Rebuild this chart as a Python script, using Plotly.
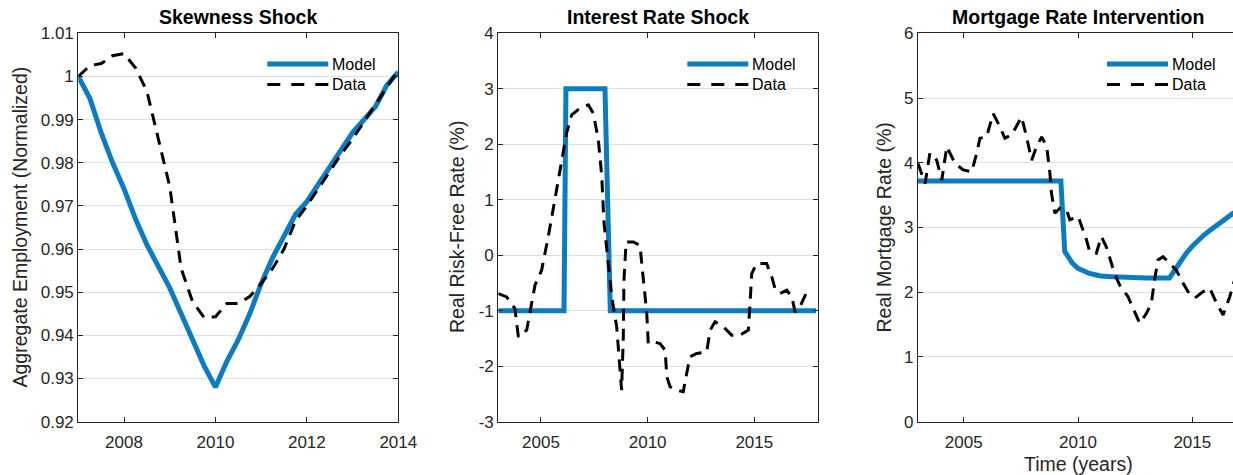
import plotly.graph_objects as go

# ---- data ----
# panel 1: skewness shock (quarterly)
SKEW_YEARS = [2007.0, 2007.25, 2007.5, 2007.75, 2008.0, 2008.25, 2008.5, 2008.75,
              2009.0, 2009.25, 2009.5, 2009.75, 2010.0, 2010.25, 2010.5, 2010.75,
              2011.0, 2011.25, 2011.5, 2011.75, 2012.0, 2012.25, 2012.5, 2012.75,
              2013.0, 2013.25, 2013.5, 2013.75, 2014.0]
SKEW_MODEL = [1.000, 0.995, 0.987, 0.980, 0.974, 0.967, 0.961, 0.956,
              0.951, 0.945, 0.939, 0.933, 0.928, 0.934, 0.939, 0.945,
              0.952, 0.958, 0.963, 0.968, 0.971, 0.975, 0.979, 0.983,
              0.987, 0.990, 0.993, 0.998, 1.001]
SKEW_DATA = [1.000, 1.0025, 1.003, 1.0048, 1.0053, 1.002, 0.9966, 0.9855,
             0.9745, 0.9555, 0.9478, 0.9442, 0.9443, 0.9474, 0.9474, 0.949,
             0.952, 0.9555, 0.960, 0.9665, 0.970, 0.974, 0.978, 0.982,
             0.9855, 0.9895, 0.9935, 0.9975, 1.0015]

# panel 2: interest rate shock
RATE_MODEL_YEARS = [2003.0, 2006.08, 2006.17, 2008.0, 2008.25, 2017.9]
RATE_MODEL = [-1, -1, 3, 3, -1, -1]
RATE_DATA_YEARS = [2003.0, 2003.39, 2003.78, 2003.94, 2004.33, 2004.72, 2005.03, 2005.34,
                   2005.65, 2005.97, 2006.2, 2006.44, 2006.83, 2007.22, 2007.45, 2007.69,
                   2007.85, 2007.95, 2008.05, 2008.32, 2008.55, 2008.7, 2008.78, 2008.86,
                   2008.89, 2008.99, 2009.33, 2009.64, 2009.8, 2009.96, 2010.03, 2010.27,
                   2010.58, 2010.82, 2010.9, 2011.05, 2011.36, 2011.67, 2011.83, 2011.99,
                   2012.3, 2012.77, 2012.93, 2013.16, 2013.55, 2013.94, 2014.33, 2014.72,
                   2014.8, 2014.88, 2015.11, 2015.58, 2015.82, 2015.97, 2016.2, 2016.52,
                   2016.76, 2016.91, 2017.14, 2017.46]
RATE_DATA = [-0.69, -0.75, -0.96, -1.47, -1.35, -0.54, -0.27, 0.33,
             1.0, 1.66, 2.2, 2.53, 2.65, 2.71, 2.56, 2.08,
             1.42, 0.6, 0.2, -0.75, -1.29, -1.95, -2.43, -1.47,
             -0.45, 0.24, 0.24, 0.18, -0.45, -1.05, -1.59, -1.56,
             -1.59, -1.71, -2.19, -2.37, -2.43, -2.46, -2.13, -1.83,
             -1.77, -1.74, -1.35, -1.2, -1.29, -1.44, -1.44, -1.35,
             -0.87, -0.33, -0.15, -0.15, -0.39, -0.6, -0.69, -0.63,
             -0.75, -1.02, -0.93, -0.66]

# panel 3: mortgage rate intervention
MORT_MODEL_YEARS = [2003.0, 2009.25, 2009.42, 2009.75, 2010.0, 2010.25, 2010.5, 2010.75,
                    2011.0, 2011.5, 2012.0, 2013.0, 2014.0, 2014.25, 2014.5, 2014.75,
                    2015.0, 2015.25, 2015.5, 2015.75, 2016.0, 2016.25, 2016.5, 2016.75,
                    2017.0]
MORT_MODEL = [3.72, 3.72, 2.63, 2.45, 2.37, 2.32, 2.29, 2.27,
              2.25, 2.24, 2.23, 2.22, 2.22, 2.36, 2.49, 2.61,
              2.71, 2.80, 2.88, 2.95, 3.02, 3.09, 3.15, 3.21,
              3.27]
MORT_DATA_YEARS = [2003.0, 2003.31, 2003.52, 2003.82, 2004.04, 2004.26, 2004.62, 2004.98,
                   2005.35, 2005.57, 2005.71, 2006.0, 2006.29, 2006.58, 2006.8, 2007.1,
                   2007.53, 2007.75, 2007.97, 2008.19, 2008.41, 2008.63, 2008.77, 2008.84,
                   2008.99, 2009.21, 2009.5, 2009.64, 2010.01, 2010.23, 2010.37, 2010.51,
                   2010.8, 2011.02, 2011.24, 2011.6, 2011.82, 2012.19, 2012.55, 2012.7,
                   2012.99, 2013.21, 2013.35, 2013.5, 2013.72, 2014.01, 2014.3, 2014.6,
                   2014.81, 2015.11, 2015.48, 2015.77, 2016.06, 2016.35, 2016.64, 2016.78,
                   2017.0]
MORT_DATA = [3.99, 3.68, 4.15, 4.04, 3.73, 4.25, 3.99, 3.89,
             3.86, 4.15, 4.38, 4.40, 4.76, 4.56, 4.38, 4.43,
             4.71, 4.40, 4.04, 4.25, 4.40, 4.25, 3.84, 3.53,
             3.22, 3.30, 3.27, 3.12, 3.17, 2.96, 2.81, 2.63,
             2.60, 2.86, 2.70, 2.29, 2.11, 1.93, 1.62, 1.52,
             1.67, 1.83, 2.19, 2.50, 2.55, 2.45, 2.34, 2.14,
             2.01, 1.91, 2.01, 2.06, 1.83, 1.65, 1.93, 2.11,
             2.35]

# tick labels
SKEW_XTICKS = [2008, 2010, 2012, 2014]
SKEW_YTICKS = [0.92, 0.93, 0.94, 0.95, 0.96, 0.97, 0.98, 0.99, 1.00, 1.01]
SKEW_YTICKTEXT = ["0.92", "0.93", "0.94", "0.95", "0.96", "0.97", "0.98", "0.99", "1", "1.01"]
YEAR_XTICKS = [2005, 2010, 2015]
RATE_YTICKS = [-3, -2, -1, 0, 1, 2, 3, 4]
RATE_YTICKTEXT = ["-3", "-2", "-1", "0", "1", "2", "3", "4"]
MORT_YTICKS = [0, 1, 2, 3, 4, 5, 6]

TITLES = ["Skewness Shock", "Interest Rate Shock", "Mortgage Rate Intervention"]
YLABELS = ["Aggregate Employment (Normalized)", "Real Risk-Free Rate (%)", "Real Mortgage Rate (%)"]

# ---- layout in pixels of the reference picture (1233 x 475) ----
W, H = 1233, 475
FONT = "Liberation Sans, Arial, sans-serif"
BLUE = "#0B7CC1"
INK = "#262626"
PANEL_LEFT = [78.3, 498.3, 918.0]
PANEL_W = 320.0
TOP, BOTTOM = 33.3, 421.7


def px(x):
    return x / W


def py(y):
    return 1 - y / H


fig = go.Figure()

series = [
    (SKEW_YEARS, SKEW_MODEL, SKEW_YEARS, SKEW_DATA),
    (RATE_MODEL_YEARS, RATE_MODEL, RATE_DATA_YEARS, RATE_DATA),
    (MORT_MODEL_YEARS, MORT_MODEL, MORT_DATA_YEARS, MORT_DATA),
]
for i, (mx, my, dx, dy) in enumerate(series):
    ax = "" if i == 0 else str(i + 1)
    fig.add_trace(go.Scatter(x=mx, y=my, mode="lines", name="Model",
                             line=dict(color=BLUE, width=5),
                             xaxis="x" + ax, yaxis="y" + ax, showlegend=False))
    fig.add_trace(go.Scatter(x=dx, y=dy, mode="lines", name="Data",
                             line=dict(color="black", width=3, dash="12px,8px"),
                             xaxis="x" + ax, yaxis="y" + ax, showlegend=False))

axis_common = dict(showline=True, linecolor=INK, linewidth=1.2, mirror="ticks",
                   ticks="inside", ticklen=5, tickwidth=1, tickcolor=INK,
                   tickfont=dict(family=FONT, size=17, color=INK), zeroline=False,
                   automargin=False)
xaxis_common = dict(axis_common, showgrid=False, ticklabelstandoff=5)
yaxis_common = dict(axis_common, showgrid=True, gridcolor="#dfdfdf")
ydom = [py(BOTTOM), py(TOP)]


def xdom(i):
    # the third panel runs a few pixels past the right edge of the picture
    return [px(PANEL_LEFT[i]), min(1.0, px(PANEL_LEFT[i] + PANEL_W))]


x3_end = 2003 + (W - PANEL_LEFT[2]) / PANEL_W * 14

fig.update_layout(
    width=W, height=H,
    margin=dict(l=0, r=0, t=0, b=0),
    paper_bgcolor="white", plot_bgcolor="white",
    xaxis=dict(xaxis_common, domain=xdom(0), range=[2007, 2014],
               tickvals=SKEW_XTICKS, anchor="y"),
    yaxis=dict(yaxis_common, domain=ydom, range=[0.92, 1.01], tickvals=SKEW_YTICKS,
               ticktext=SKEW_YTICKTEXT, anchor="x"),
    xaxis2=dict(xaxis_common, domain=xdom(1), range=[2003, 2018],
                tickvals=YEAR_XTICKS, anchor="y2"),
    yaxis2=dict(yaxis_common, domain=ydom, range=[-3, 4], tickvals=RATE_YTICKS,
                ticktext=RATE_YTICKTEXT, anchor="x2"),
    xaxis3=dict(xaxis_common, domain=xdom(2), range=[2003, x3_end],
                tickvals=YEAR_XTICKS, anchor="y3"),
    yaxis3=dict(yaxis_common, domain=ydom, range=[0, 6], tickvals=MORT_YTICKS,
                anchor="x3", mirror=False),
)

# titles, y labels and the legends drawn by hand (MATLAB style)
label_x = [20, 457.5, 884]
for i in range(3):
    left = PANEL_LEFT[i]
    center = left + PANEL_W / 2
    fig.add_annotation(text="<b>%s</b>" % TITLES[i], x=px(center), y=py(16.5),
                       xref="paper", yref="paper", showarrow=False,
                       xanchor="center", yanchor="middle",
                       font=dict(family=FONT, size=19.5, color="black"))
    fig.add_annotation(text=YLABELS[i], x=px(label_x[i]), y=py((TOP + BOTTOM) / 2),
                       xref="paper", yref="paper", showarrow=False, textangle=-90,
                       xanchor="center", yanchor="middle",
                       font=dict(family=FONT, size=19.5, color=INK))

    right = left + PANEL_W
    for name, yy, style in [("Model", 64, dict(color=BLUE, width=5)),
                            ("Data", 84.5, dict(color="black", width=3, dash="13px,11px"))]:
        fig.add_shape(type="line", xref="paper", yref="paper",
                      x0=px(right - 131), x1=px(right - 70), y0=py(yy), y1=py(yy), line=style)
        fig.add_annotation(text=name, x=px(right - 68.5), y=py(yy), xref="paper", yref="paper",
                           showarrow=False, xanchor="left", yanchor="middle",
                           font=dict(family=FONT, size=16, color="black"))

fig.add_annotation(text="Time (years)", x=px(1078), y=py(464), xref="paper", yref="paper",
                   showarrow=False, xanchor="center", yanchor="middle",
                   font=dict(family=FONT, size=19.5, color=INK))

# drop the default 8px page margin so the figure fills the window exactly
fig.write_html("out.html", config={"displayModeBar": False},
               post_script="document.body.style.margin = '0';")
